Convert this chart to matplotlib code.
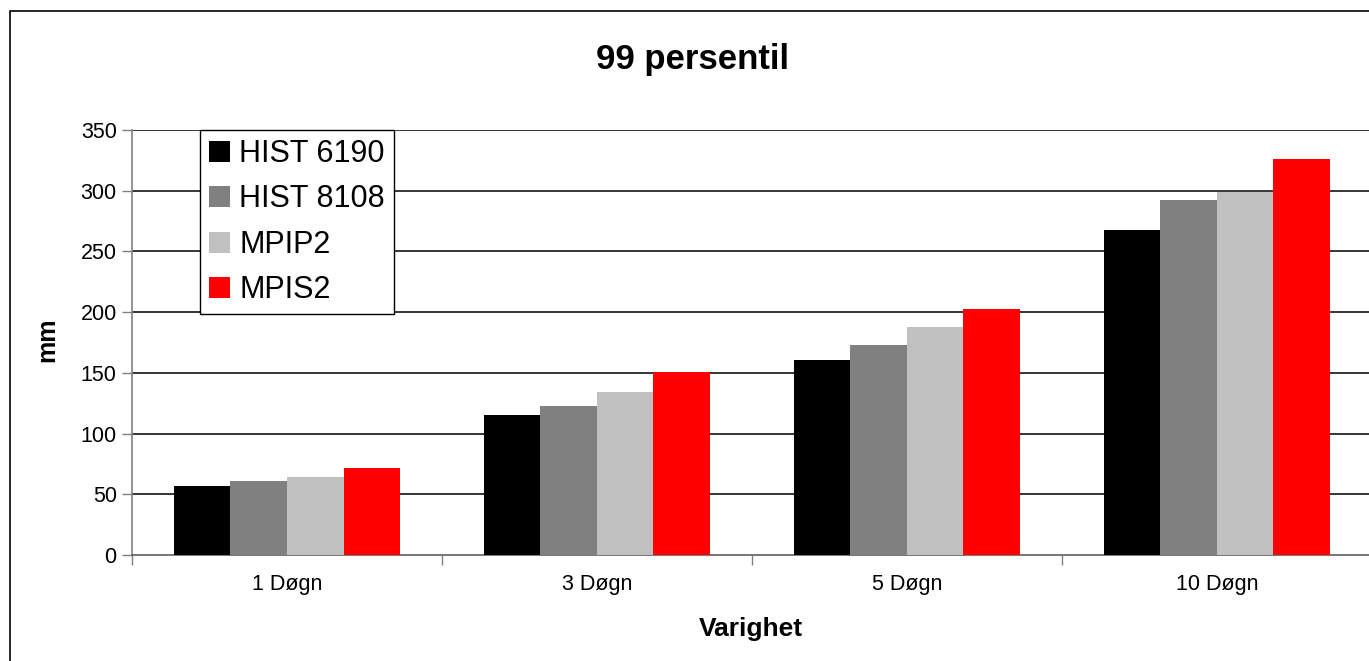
import numpy as np
import matplotlib
matplotlib.use("Agg")
import matplotlib.pyplot as plt
from matplotlib.patches import Rectangle

categories = ["1 Døgn", "3 Døgn", "5 Døgn", "10 Døgn"]
series_names = ["HIST 6190", "HIST 8108", "MPIP2", "MPIS2"]
hist_6190 = [57, 115, 161, 268]
hist_8108 = [61, 123, 173, 292]
mpip2 = [64, 134, 188, 299]
mpis2 = [72, 151, 203, 326]
y_ticks = [0, 50, 100, 150, 200, 250, 300, 350]

COLORS = ["#000000", "#808080", "#C0C0C0", "#FF0000"]

plt.rcParams.update({"font.family": ["Liberation Sans", "DejaVu Sans"]})

W, H = 1369, 661
fig = plt.figure(figsize=(W / 100, H / 100), dpi=100)
ax = fig.add_axes([132 / W, 1 - 555 / H, (W - 132) / W + 0.002, (555 - 130) / H])

x = np.arange(len(categories))
bw = 0.1826
for i, (name, vals) in enumerate(zip(series_names, [hist_6190, hist_8108, mpip2, mpis2])):
    ax.bar(x + (i - 1.5) * bw, vals, width=bw, color=COLORS[i], label=name,
           linewidth=0, zorder=3)

ax.set_xlim(-0.5, len(categories) - 0.5)
ax.set_ylim(0, 350)
ax.set_yticks(y_ticks)
ax.tick_params(axis="y", direction="out", length=7, width=1, color="#808080",
               labelsize=15.5, pad=4)
ax.set_xticks(x)
ax.set_xticklabels(categories, fontsize=15.5)
ax.tick_params(axis="x", which="major", length=0, pad=14)
ax.set_xticks(np.arange(-0.5, len(categories), 1.0), minor=True)
ax.tick_params(axis="x", which="minor", direction="out", length=7, width=1, color="#808080")

for yv in y_ticks[1:]:
    ax.axhline(yv, color="#000000", linewidth=1.1, zorder=1)

for s in ("top", "right"):
    ax.spines[s].set_visible(False)
ax.spines["left"].set_color("#808080")
ax.spines["bottom"].set_color("#606060")
ax.spines["left"].set_linewidth(1.2)
ax.spines["bottom"].set_linewidth(1.2)

fig.text(693 / W, 1 - 60 / H, "99 persentil", ha="center", va="center",
         fontsize=25, fontweight="bold")
fig.text(751 / W, 1 - 629 / H, "Varighet", ha="center", va="center",
         fontsize=19, fontweight="bold")
fig.text(47 / W, 1 - 340 / H, "mm", ha="center", va="center", rotation=90,
         fontsize=18, fontweight="bold")

leg = ax.legend(loc="upper left", bbox_to_anchor=(200 / W, 1 - 130 / H),
                bbox_transform=fig.transFigure, borderaxespad=0, fontsize=22,
                frameon=True, fancybox=False, edgecolor="#000000", framealpha=1,
                handlelength=0.68, handleheight=0.68, handletextpad=0.3,
                labelspacing=0.5, borderpad=0.3)
leg.get_frame().set_linewidth(1.0)
leg.set_zorder(5)

fig.patches.append(Rectangle((10 / W, -0.1), 1.2, 1.1 - 11 / H, transform=fig.transFigure,
                             fill=False, edgecolor="#000000", linewidth=1.2))

fig.savefig("out.png", dpi=100)
